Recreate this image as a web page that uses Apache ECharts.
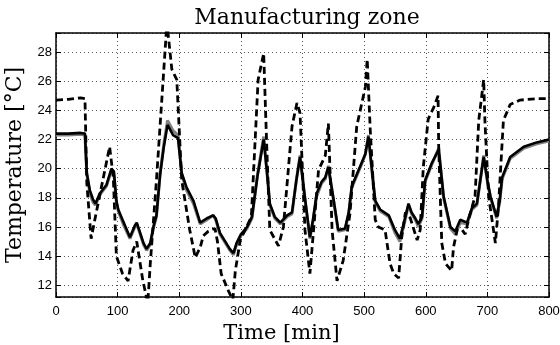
<!DOCTYPE html>
<html>
<head>
<meta charset="utf-8">
<script src="https://cdn.jsdelivr.net/npm/echarts@6/dist/echarts.min.js"></script>
<style>
  html, body { margin: 0; padding: 0; background: #fff; }
  #app { width: 560px; height: 345px; }
</style>
</head>
<body>
<div id="app"></div>
<script>
// time ticks on x axis
const timeTicks = [0, 100, 200, 300, 400, 500, 600, 700, 800];

// dashed black curve
const dashedTime = [0, 20, 40, 47, 50, 57, 63, 74, 87, 93, 98, 108, 117, 125, 131, 141, 149, 153, 163, 180,
  188, 196, 199, 204, 217, 226, 234, 239, 247, 258, 262, 268, 280, 287, 291, 299, 317, 328, 337, 342,
  347, 361, 369, 383, 391, 396, 404, 412, 418, 426, 437, 442, 448, 456, 466, 477, 488, 502, 505, 510,
  518, 523, 534, 542, 548, 556, 561, 567, 575, 586, 591, 596, 604, 613, 620, 621, 626, 632, 642, 645,
  651, 659, 664, 670, 680, 686, 694, 696, 702, 713, 718, 726, 737, 753, 780, 800];
const dashedTemp = [24.7, 24.75, 24.85, 24.8, 19.0, 15.2, 16.5, 18.8, 21.5, 19.4, 14.0, 12.8, 12.3, 14.4, 15.0, 12.3, 10.8, 13.5, 19.2, 30.0,
  26.8, 26.1, 26.0, 19.2, 15.8, 13.9, 14.6, 15.4, 15.7, 15.9, 15.0, 12.8, 11.6, 11.0, 13.0, 15.1, 16.7, 26.1, 27.9, 21.5,
  15.8, 14.7, 16.0, 22.9, 24.5, 23.8, 15.8, 12.8, 15.8, 19.9, 20.9, 23.1, 15.8, 12.3, 13.7, 16.9, 22.9, 25.6, 27.5, 22.6,
  16.5, 16.0, 15.8, 13.5, 12.8, 12.5, 15.3, 17.0, 16.6, 15.1, 15.8, 20.1, 23.4, 24.2, 25.0, 21.5, 14.9, 13.5, 13.0, 14.6,
  15.8, 15.8, 15.5, 16.6, 18.1, 23.3, 26.1, 23.3, 18.1, 14.9, 17.4, 23.3, 24.4, 24.7, 24.8, 24.8];

// solid curves (black and grey share the time axis)
const solidTime = [0, 20, 40, 47, 50, 55, 60, 64, 71, 82, 90, 94, 98, 101, 109, 120, 128, 131, 135, 142,
  147, 153, 158, 163, 169, 175, 181, 190, 198, 204, 212, 223, 234, 245, 255, 259, 266, 282, 288, 293,
  300, 310, 318, 327, 337, 343, 347, 355, 364, 375, 383, 390, 396, 404, 412, 417, 423, 431, 437, 442,
  450, 458, 469, 475, 480, 488, 496, 502, 507, 513, 518, 526, 540, 550, 558, 564, 572, 577, 583, 588,
  594, 599, 610, 621, 629, 640, 648, 656, 667, 675, 683, 694, 700, 705, 715, 720, 724, 737, 759, 780, 800];
const blackTemp = [22.4, 22.4, 22.45, 22.4, 19.7, 18.5, 17.9, 17.6, 18.3, 18.9, 20.0, 19.8, 17.8, 17.2, 16.4, 15.3, 16.1, 16.3, 15.8, 14.9,
  14.5, 14.9, 16.0, 16.8, 19.6, 21.5, 23.0, 22.3, 22.1, 19.7, 18.7, 17.8, 16.3, 16.6, 16.8, 16.6, 15.6, 14.5, 14.2, 14.9,
  15.5, 16.0, 16.7, 19.5, 22.0, 19.5, 17.6, 16.7, 16.3, 16.8, 17.0, 19.2, 20.8, 18.0, 15.3, 16.5, 18.3, 19.1, 19.4, 20.1,
  18.0, 15.8, 15.9, 17.0, 18.8, 19.6, 20.4, 21.0, 22.2, 19.8, 17.8, 17.2, 16.8, 15.8, 15.2, 16.2, 17.6, 17.0, 16.6, 16.2,
  16.7, 19.2, 20.4, 21.3, 18.1, 16.0, 15.7, 16.5, 16.3, 17.3, 17.6, 20.8, 19.2, 18.1, 16.7, 17.8, 19.4, 20.8, 21.5, 21.8, 22.0];
const greyTemp = [22.3, 22.3, 22.35, 22.3, 19.6, 18.3, 17.7, 17.5, 18.2, 18.8, 19.9, 19.6, 17.7, 17.1, 16.2, 15.2, 16.0, 16.2, 15.7, 14.8,
  14.4, 14.8, 15.9, 16.7, 19.7, 21.7, 23.3, 22.6, 22.3, 19.6, 18.5, 17.6, 16.2, 16.5, 16.8, 16.5, 15.5, 14.4, 14.1, 14.8,
  15.4, 15.9, 16.6, 19.6, 22.2, 19.4, 17.5, 16.6, 16.2, 16.7, 16.9, 19.2, 20.9, 17.9, 15.2, 16.4, 18.1, 19.0, 19.3, 20.2,
  17.9, 15.7, 15.8, 16.9, 18.7, 19.5, 20.3, 21.0, 22.3, 19.7, 17.7, 17.1, 16.7, 15.6, 15.0, 16.0, 17.5, 16.9, 16.5, 16.0,
  16.6, 19.1, 20.3, 21.4, 18.0, 15.9, 15.5, 16.3, 16.2, 17.2, 17.5, 20.9, 19.1, 18.0, 16.6, 17.7, 19.3, 20.7, 21.4, 21.7, 21.9];

function zip(xs, ys) {
  return xs.map((x, i) => [x, ys[i]]);
}

const serif = "DejaVu Serif";
const sans = "Liberation Sans";

const gridLine = { show: true, lineStyle: { color: "#555", type: [1, 3], width: 1 } };
const boxLine = { show: true, onZero: false, lineStyle: { color: "#000", width: 1.5 } };
const inTick = { show: true, inside: true, length: 5, lineStyle: { color: "#000", width: 1 } };

window.addEventListener("load", () => {
  const chart = echarts.init(document.getElementById("app"), null, { renderer: "canvas" });
  chart.setOption({
    backgroundColor: "#fff",
    animation: false,
    title: {
      text: "Manufacturing zone",
      left: 302,
      textAlign: "center",
      top: 2,
      textStyle: { fontFamily: serif, fontWeight: "normal", fontSize: 22, color: "#000" }
    },
    grid: { left: 56, right: 11, top: 33, bottom: 48, outerBoundsMode: "none" },
    xAxis: [
      {
        type: "value",
        min: timeTicks[0],
        max: timeTicks[timeTicks.length - 1],
        interval: 100,
        name: "Time [min]",
        nameLocation: "middle",
        nameGap: 20,
        nameTextStyle: { fontFamily: serif, fontSize: 21, color: "#000", padding: [0, 42, 0, 0] },
        axisLine: boxLine,
        axisTick: inTick,
        axisLabel: { fontFamily: sans, fontSize: 13, color: "#000", margin: 8 },
        splitLine: gridLine
      },
      {
        type: "value",
        position: "top",
        min: timeTicks[0],
        max: timeTicks[timeTicks.length - 1],
        interval: 100,
        axisLine: boxLine,
        axisTick: inTick,
        axisLabel: { show: false },
        splitLine: { show: false }
      }
    ],
    yAxis: [
      {
        type: "value",
        min: 11.2,
        max: 29.3,
        splitNumber: 9,
        name: "Temperature [°C]",
        nameLocation: "middle",
        nameGap: 27,
        nameTextStyle: { fontFamily: serif, fontSize: 22, color: "#000" },
        axisLine: boxLine,
        axisTick: inTick,
        axisLabel: {
          fontFamily: sans, fontSize: 13, color: "#000", margin: 4,
          formatter: v => (Math.abs(v - Math.round(v)) < 1e-6 && Math.round(v) % 2 === 0 ? String(Math.round(v)) : "")
        },
        splitLine: gridLine
      },
      {
        type: "value",
        position: "right",
        min: 11.2,
        max: 29.3,
        splitNumber: 9,
        axisLine: boxLine,
        axisTick: inTick,
        axisLabel: { show: false },
        splitLine: { show: false }
      }
    ],
    series: [
      {
        type: "line",
        data: zip(solidTime, greyTemp),
        showSymbol: false,
        lineStyle: { color: "#808080", width: 3 },
        z: 2
      },
      {
        type: "line",
        data: zip(solidTime, blackTemp),
        showSymbol: false,
        lineStyle: { color: "#000", width: 2.6 },
        z: 3
      },
      {
        type: "line",
        data: zip(dashedTime, dashedTemp),
        showSymbol: false,
        lineStyle: { color: "#000", width: 2.8, type: [7, 4] },
        z: 4
      }
    ]
  });
});
</script>
</body>
</html>
